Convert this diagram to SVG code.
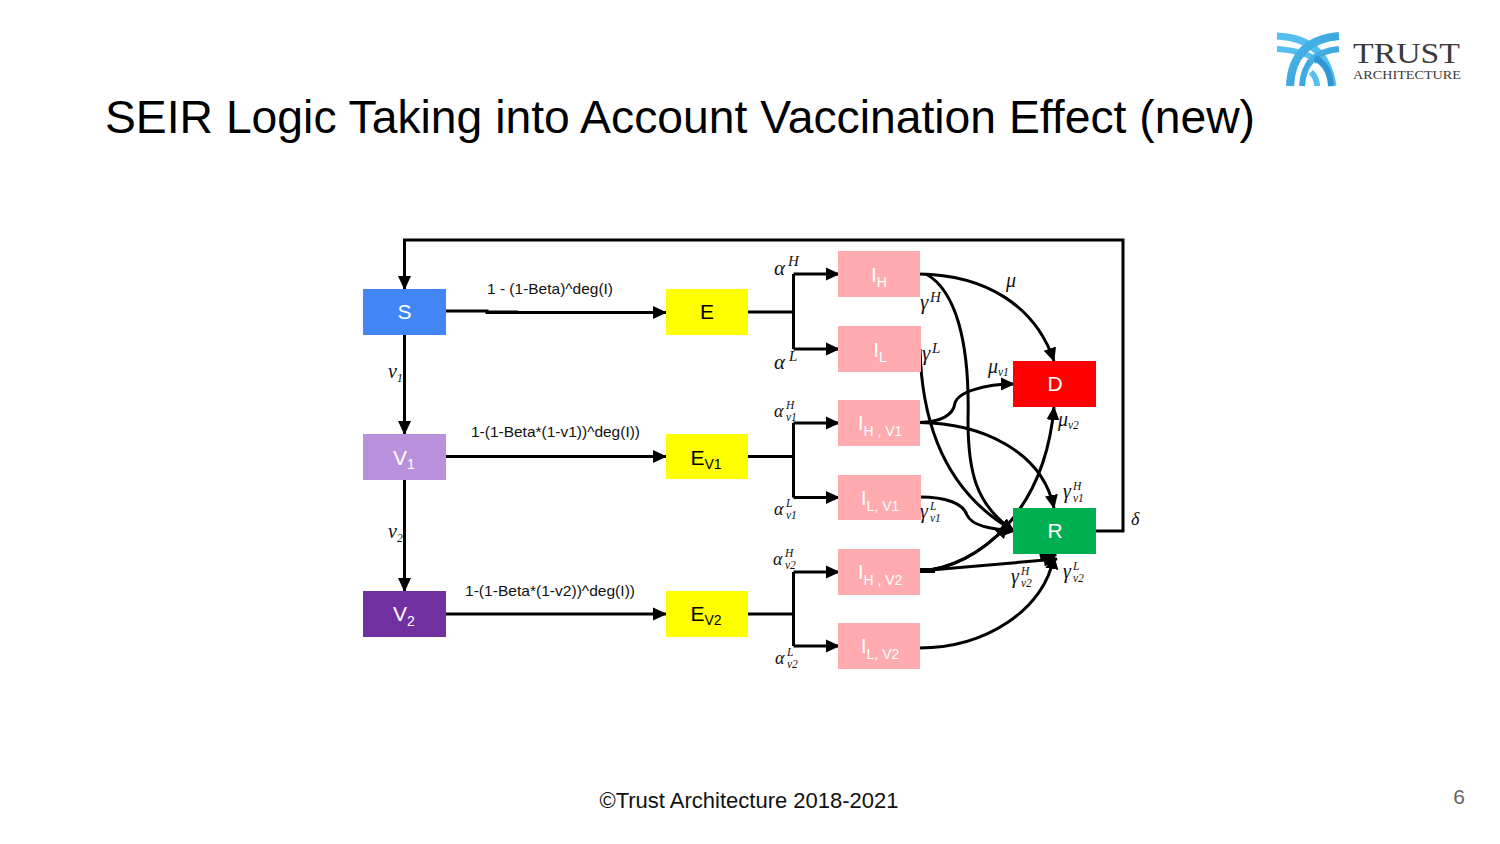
<svg xmlns="http://www.w3.org/2000/svg" width="1500" height="844" viewBox="0 0 1500 844">
<style>
text{font-family:"Liberation Sans",Arial,sans-serif}
.n{fill:#fff;font-size:21px;text-anchor:middle}
.k{fill:#000;font-size:21px;text-anchor:middle}
.sb{font-size:14px}
.r{font-size:15px;fill:#111}
.m{font-family:"Liberation Serif","DejaVu Serif",serif;font-style:italic;font-size:18px;fill:#111}
.g{font-size:20px}
.b{font-size:21px}
.s{font-size:11.500px}
.b .s{font-size:15px}
.c{fill:none;stroke:#000;stroke-width:3}
.a{marker-end:url(#ah)}
</style>
<defs>
<marker id="ah" markerUnits="userSpaceOnUse" markerWidth="14" markerHeight="14" refX="13" refY="7" orient="auto"><path d="M0 0.500L14 7L0 13.500Z" fill="#000"/></marker>
<linearGradient id="lg" x1="0" y1="0" x2="1" y2="1"><stop offset="0" stop-color="#4cb8ec"/><stop offset="1" stop-color="#2f97d2"/></linearGradient>
</defs>
<rect width="1500" height="844" fill="#fff"/>
<g id="logo" fill="none">
<path d="M1277 36Q1326 38 1333 86" stroke="#55c0f0" stroke-width="7"/>
<path d="M1277 49Q1308 51 1318 62" stroke="#55c0f0" stroke-width="6"/>
<path d="M1311 72Q1317 78 1317 86" stroke="#55c0f0" stroke-width="6"/>
<path d="M1339 36Q1292 40 1290 86" stroke="url(#lg)" stroke-width="8"/>
<path d="M1339 49Q1304 52 1302 86" stroke="url(#lg)" stroke-width="6"/>
<path d="M1315 58Q1330 66 1331 86" stroke="#2f97d2" stroke-width="6"/>
<path d="M1304 71L1309 60" stroke="#3aa5de" stroke-width="3"/>
<text x="1353" y="63" style="font-family:'Liberation Serif',serif;font-size:29px;fill:#3c3a3a" textLength="107" lengthAdjust="spacingAndGlyphs">TRUST</text>
<text x="1353" y="79" style="font-family:'Liberation Serif',serif;font-size:12.500px;fill:#3c3a3a" textLength="108" lengthAdjust="spacingAndGlyphs">ARCHITECTURE</text>
</g>
<text id="title" x="105" y="133" font-size="46" fill="#000" textLength="1150" lengthAdjust="spacingAndGlyphs">SEIR Logic Taking into Account Vaccination Effect (new)</text>
<g id="connectors">
<path class="c a" d="M1096 531H1123V240H404.500V289"/>
<path class="c a" d="M446 311H487V312.500H666"/>
<path class="c" d="M487 312H518"/>
<path class="c a" d="M404.500 335V434"/>
<path class="c a" d="M404.500 480V591"/>
<path class="c a" d="M446 456.500H666"/>
<path class="c a" d="M446 614H666"/>
<path class="c" d="M748 312H793.500"/>
<path class="c a" d="M793.500 274H839"/>
<path class="c a" d="M793.500 349H839"/>
<path class="c" d="M793.500 274V349"/>
<path class="c" d="M748 456.500H793.500"/>
<path class="c a" d="M793.500 423H839"/>
<path class="c a" d="M793.500 497.500H839"/>
<path class="c" d="M793.500 423V497.500"/>
<path class="c" d="M748 614H793.500"/>
<path class="c a" d="M793.500 572H839"/>
<path class="c a" d="M793.500 646H839"/>
<path class="c" d="M793.500 572V646"/>
<path class="c a" d="M919 274C985 275 1035 305 1054 361"/>
<path class="c a" d="M926 274C955 290 970 340 968 420C968 470 975 505 1014 531"/>
<path class="c a" d="M920 349C922 430 950 495 1014 531"/>
<path class="c a" d="M919 422.500C935 422 953 418 955 403C958 392 985 384 1014 384"/>
<path class="c a" d="M919 422.500C980 423 1042 450 1054 508"/>
<path class="c a" d="M920 497C945 497 963 503 967 515C972 526 990 529 1015 531"/>
<path class="c a" d="M919 571C980 568 1045 510 1054 407"/>
<path class="c a" d="M919 571C949.500 569.500 981 554 1008 525"/>
<path class="c a" d="M919 571L1057 559"/>
<path class="c" d="M919 570.500H935" style="stroke-width:5"/>
<path class="c" d="M1040 557L1056 553" style="stroke-width:6"/>
<path class="c a" d="M919 648C985 648 1045 610 1054 556"/>
</g>
<g id="node-S"><rect x="363" y="289" width="83" height="46" fill="#4285f4"/><text class="n" x="404.500" y="319">S</text></g>
<g id="node-V1"><rect x="363" y="434" width="83" height="46" fill="#b990dc"/><text class="n" x="404" y="465">V<tspan class="sb" dy="4">1</tspan></text></g>
<g id="node-V2"><rect x="363" y="591" width="83" height="46" fill="#7030a0"/><text class="n" x="404" y="621">V<tspan class="sb" dy="5">2</tspan></text></g>
<g id="node-E"><rect x="666" y="289" width="82" height="46" fill="#ffff00"/><text class="k" x="707" y="319">E</text></g>
<g id="node-EV1"><rect x="666" y="434" width="82" height="45" fill="#ffff00"/><text class="k" x="706" y="465">E<tspan class="sb" font-size="15" dy="4">V1</tspan></text></g>
<g id="node-EV2"><rect x="666" y="591" width="82" height="46" fill="#ffff00"/><text class="k" x="706" y="621">E<tspan class="sb" dy="4">V2</tspan></text></g>
<g id="node-IH"><rect x="838" y="251" width="82" height="46" fill="#ffabaf"/><text class="n" x="879" y="282">I<tspan class="sb" dy="5">H</tspan></text></g>
<g id="node-IL"><rect x="838" y="326" width="83" height="46" fill="#ffabaf"/><text class="n" x="880" y="357">I<tspan class="sb" dy="5">L</tspan></text></g>
<g id="node-IHV1"><rect x="838" y="400" width="82" height="46" fill="#ffabaf"/><text class="n" x="880" y="430">I<tspan class="sb" dy="6">H , V1</tspan></text></g>
<g id="node-ILV1"><rect x="838" y="475" width="83" height="45" fill="#ffabaf"/><text class="n" x="880" y="505">I<tspan class="sb" dy="6">L, V1</tspan></text></g>
<g id="node-IHV2"><rect x="838" y="549" width="82" height="46" fill="#ffabaf"/><text class="n" x="880" y="579">I<tspan class="sb" dy="6">H , V2</tspan></text></g>
<g id="node-ILV2"><rect x="838" y="623" width="82" height="46" fill="#ffabaf"/><text class="n" x="880" y="653">I<tspan class="sb" dy="6">L, V2</tspan></text></g>
<g id="node-D"><rect x="1013" y="361" width="83" height="46" fill="#ff0000"/><text class="n" x="1055" y="391">D</text></g>
<g id="node-R"><rect x="1013" y="508" width="83" height="46" fill="#00b050"/><text class="n" x="1055" y="538">R</text></g>
<g id="labels">
<text class="r" x="487" y="294" textLength="126" lengthAdjust="spacingAndGlyphs">1 - (1-Beta)^deg(I)</text>
<text class="r" x="471" y="437" textLength="169" lengthAdjust="spacingAndGlyphs">1-(1-Beta*(1-v1))^deg(I))</text>
<text class="r" x="465" y="596" textLength="170" lengthAdjust="spacingAndGlyphs">1-(1-Beta*(1-v2))^deg(I))</text>
<text class="m g" x="388" y="378">ν<tspan class="s" x="397" y="382">1</tspan></text>
<text class="m g" x="388" y="538">ν<tspan class="s" x="397" y="542">2</tspan></text>
<text class="m b" x="774" y="275">α<tspan class="s" x="788" y="266">H</tspan></text>
<text class="m b" x="774" y="369">α<tspan class="s" x="789" y="361">L</tspan></text>
<text class="m" x="774" y="417">α<tspan class="s" x="786" y="409">H</tspan><tspan class="s" x="786" y="421">v1</tspan></text>
<text class="m" x="774" y="515">α<tspan class="s" x="786" y="507">L</tspan><tspan class="s" x="786" y="519">v1</tspan></text>
<text class="m" x="773" y="565">α<tspan class="s" x="785" y="557">H</tspan><tspan class="s" x="785" y="569">v2</tspan></text>
<text class="m" x="775" y="664">α<tspan class="s" x="787" y="656">L</tspan><tspan class="s" x="787" y="668">v2</tspan></text>
<text class="m g" x="1006" y="287">μ</text>
<text class="m b" x="920" y="309">γ<tspan class="s" x="930" y="302">H</tspan></text>
<text class="m b" x="922" y="360">γ<tspan class="s" x="932" y="353">L</tspan></text>
<text class="m g" x="988" y="373">μ<tspan class="s" x="998" y="376">v1</tspan></text>
<text class="m g" x="1058" y="426">μ<tspan class="s" x="1068" y="429">v2</tspan></text>
<text class="m g" x="1063" y="498">γ<tspan class="s" x="1073" y="490">H</tspan><tspan class="s" x="1073" y="502">v1</tspan></text>
<text class="m g" x="920" y="518">γ<tspan class="s" x="930" y="510">L</tspan><tspan class="s" x="930" y="522">v1</tspan></text>
<text class="m g" x="1011" y="583">γ<tspan class="s" x="1021" y="575">H</tspan><tspan class="s" x="1021" y="587">v2</tspan></text>
<text class="m g" x="1063" y="578">γ<tspan class="s" x="1073" y="570">L</tspan><tspan class="s" x="1073" y="582">v2</tspan></text>
<text class="m" x="1131" y="525">δ</text>
</g>
<text id="footer" x="749" y="808" font-size="22" fill="#111" text-anchor="middle">©Trust Architecture 2018-2021</text>
<text id="page" x="1459" y="804" font-size="21" fill="#666" text-anchor="middle">6</text>
</svg>
